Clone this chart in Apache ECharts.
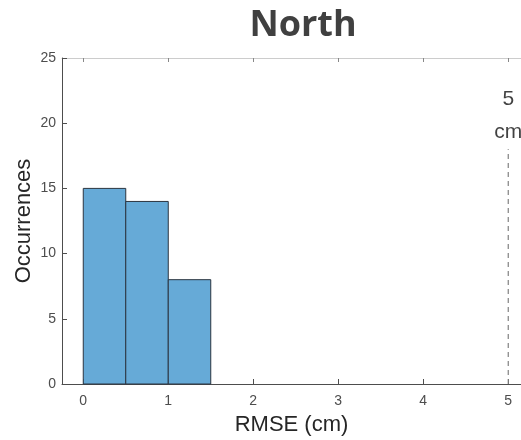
<!DOCTYPE html>
<html>
<head>
<meta charset="utf-8">
<script src="https://cdn.jsdelivr.net/npm/echarts@6/dist/echarts.min.js"></script>
<style>
  html, body { margin: 0; padding: 0; background: #fff; }
  #chart { width: 521px; height: 440px; }
</style>
</head>
<body>
<div id="chart"></div>
<script>
// Histogram of RMSE values, North set
const binStarts = [0, 0.5, 1.0];
const binEnds = [0.5, 1.0, 1.5];
const counts = [15, 14, 8];
const xTicks = [0, 1, 2, 3, 4, 5];
const yTicks = [0, 5, 10, 15, 20, 25];
const thresholdCm = 5;
const thresholdLineTop = 18;
const thresholdLabelY = 20.6;

const chart = echarts.init(document.getElementById('chart'));

const bins = binStarts.map((s, i) => [s, binEnds[i], counts[i]]);

const tickFont = { color: '#4d4d4d', fontSize: 14, fontFamily: 'Liberation Sans, Arial, sans-serif' };

chart.setOption({
  animation: false,
  title: {
    text: 'North',
    left: 298,
    textAlign: 'center',
    top: 3,
    textStyle: { fontSize: 36, fontWeight: 'bold', color: '#404040', fontFamily: 'Open Sans, Lato, sans-serif' }
  },
  grid: { left: 62, right: 0, top: 58, bottom: 56, outerBoundsMode: 'none', containLabel: false },
  xAxis: [{
    type: 'value',
    min: -0.25,
    max: 5.15,
    name: 'RMSE (cm)',
    nameLocation: 'middle',
    nameGap: 30,
    nameMoveOverlap: false,
    nameTextStyle: { fontSize: 22, color: '#262626', fontFamily: 'Liberation Sans, Arial, sans-serif' },
    axisLine: { show: true, onZero: false, lineStyle: { color: '#4d4d4d', width: 1 } },
    axisTick: { show: true, inside: true, length: 5, lineStyle: { color: '#4d4d4d' }, customValues: xTicks },
    axisLabel: { ...tickFont, margin: 10, customValues: xTicks, formatter: v => String(v) },
    splitLine: { show: false }
  }, {
    type: 'value',
    position: 'top',
    min: -0.25,
    max: 5.15,
    axisLine: { show: true, onZero: false, lineStyle: { color: '#cccccc', width: 1 } },
    axisTick: { show: true, inside: true, length: 4, lineStyle: { color: '#888888' }, customValues: xTicks },
    axisLabel: { show: false },
    splitLine: { show: false }
  }],
  yAxis: {
    type: 'value',
    min: 0,
    max: 25,
    interval: 5,
    name: 'Occurrences',
    nameLocation: 'middle',
    nameGap: 27,
    nameMoveOverlap: false,
    nameTextStyle: { fontSize: 22, color: '#262626', fontFamily: 'Liberation Sans, Arial, sans-serif' },
    axisLine: { show: true, onZero: false, lineStyle: { color: '#4d4d4d', width: 1 } },
    axisTick: { show: true, inside: true, length: 5, lineStyle: { color: '#4d4d4d' } },
    axisLabel: { ...tickFont, margin: 6 },
    splitLine: { show: false }
  },
  series: [{
    type: 'custom',
    xAxisIndex: 0,
    data: bins,
    renderItem: function (params, api) {
      const p0 = api.coord([api.value(0), api.value(2)]);
      const p1 = api.coord([api.value(1), 0]);
      return {
        type: 'rect',
        shape: { x: p0[0], y: p0[1], width: p1[0] - p0[0], height: p1[1] - p0[1] },
        style: { fill: '#66aad7', stroke: '#2b3540', lineWidth: 1 }
      };
    },
    encode: { x: [0, 1], y: 2 }
  }, {
    type: 'line',
    xAxisIndex: 0,
    data: [[thresholdCm, 0], [thresholdCm, thresholdLineTop]],
    symbol: 'none',
    lineStyle: { color: '#808080', width: 1.2, type: [5, 4] },
    z: 1
  }, {
    type: 'scatter',
    xAxisIndex: 0,
    data: [[thresholdCm, thresholdLabelY]],
    symbolSize: 0,
    label: {
      show: true,
      position: 'inside',
      formatter: thresholdCm + '\ncm',
      fontSize: 21,
      lineHeight: 33,
      color: '#111111',
      fontFamily: 'Liberation Sans, Arial, sans-serif'
    }
  }]
});
</script>
</body>
</html>
